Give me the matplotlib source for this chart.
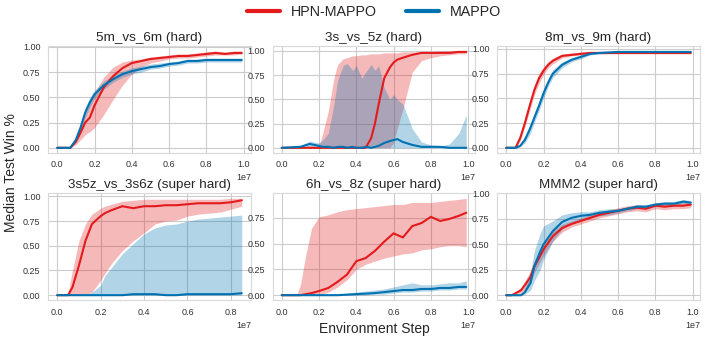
import matplotlib
matplotlib.use("Agg")
import matplotlib.pyplot as plt
import numpy as np
import seaborn as sns
from matplotlib.lines import Line2D

sns.set_style("whitegrid")
plt.rcParams["font.family"] = ["Liberation Sans", "DejaVu Sans"]

RED = "#e41a1c"
BLUE = "#0072b2"

# x values are in units of 1e7 environment steps
titles = ["5m_vs_6m (hard)", "3s_vs_5z (hard)", "8m_vs_9m (hard)",
          "3s5z_vs_3s6z (super hard)", "6h_vs_8z (super hard)", "MMM2 (super hard)"]

# 5m_vs_6m
x1 = [0, 0.05, 0.07, 0.1, 0.125, 0.15, 0.175, 0.2, 0.25, 0.3, 0.35, 0.4, 0.45, 0.5,
      0.55, 0.6, 0.65, 0.7, 0.75, 0.8, 0.85, 0.9, 0.95, 0.99]
hpn1 = [0, 0, 0, 0.06, 0.15, 0.25, 0.3, 0.42, 0.6, 0.71, 0.79, 0.84, 0.86, 0.88,
        0.89, 0.9, 0.91, 0.91, 0.92, 0.93, 0.94, 0.93, 0.94, 0.94]
hpn1_lo = [0, 0, 0, 0.03, 0.08, 0.13, 0.16, 0.2, 0.33, 0.48, 0.62, 0.73, 0.8, 0.84,
           0.86, 0.88, 0.89, 0.89, 0.9, 0.91, 0.92, 0.92, 0.92, 0.93]
hpn1_hi = [0, 0, 0, 0.1, 0.22, 0.35, 0.45, 0.55, 0.7, 0.8, 0.85, 0.87, 0.88, 0.9,
           0.91, 0.92, 0.93, 0.93, 0.94, 0.95, 0.96, 0.95, 0.96, 0.96]
mappo1 = [0, 0, 0, 0.08, 0.2, 0.35, 0.45, 0.53, 0.62, 0.68, 0.73, 0.76, 0.78, 0.8,
          0.81, 0.83, 0.84, 0.86, 0.86, 0.87, 0.87, 0.87, 0.87, 0.87]
mappo1_lo = [0, 0, 0, 0.06, 0.16, 0.3, 0.4, 0.49, 0.58, 0.65, 0.7, 0.73, 0.75, 0.78,
             0.79, 0.81, 0.82, 0.84, 0.84, 0.85, 0.85, 0.85, 0.85, 0.85]
mappo1_hi = [0, 0, 0, 0.1, 0.24, 0.4, 0.5, 0.57, 0.66, 0.72, 0.76, 0.79, 0.81, 0.83,
             0.84, 0.85, 0.86, 0.88, 0.88, 0.89, 0.89, 0.89, 0.89, 0.89]

# 3s_vs_5z
x2 = [0, 0.1, 0.15, 0.2, 0.22, 0.25, 0.28, 0.3, 0.33, 0.35, 0.38, 0.4, 0.43, 0.45,
      0.48, 0.5, 0.52, 0.55, 0.58, 0.6, 0.62, 0.65, 0.7, 0.75, 0.8, 0.85, 0.9, 0.95, 0.99]
hpn2 = [0, 0, 0, 0, 0, 0, 0, 0, 0, 0, 0, 0, 0, 0, 0.1, 0.25, 0.45, 0.72, 0.83, 0.88,
        0.91, 0.93, 0.96, 0.98, 0.98, 0.98, 0.98, 0.99, 0.99]
hpn2_lo = [0, 0, 0, 0, 0, 0, 0, 0, 0, 0, 0, 0, 0, 0, 0, 0, 0, 0, 0, 0.05, 0.2, 0.4,
           0.78, 0.9, 0.93, 0.95, 0.96, 0.97, 0.97]
hpn2_hi = [0, 0, 0, 0.02, 0.15, 0.38, 0.72, 0.86, 0.92, 0.93, 0.95, 0.95, 0.96, 0.96,
           0.97, 0.97, 0.97, 0.98, 0.98, 0.98, 0.98, 0.99, 0.99, 0.99, 0.99, 1.0, 1.0, 1.0, 1.0]
mappo2 = [0, 0.01, 0.04, 0.02, 0.01, 0.01, 0, 0.01, 0.01, 0, 0.01, 0, 0, 0.01, 0, 0.01,
          0.02, 0.05, 0.07, 0.08, 0.09, 0.06, 0.03, 0.01, 0.01, 0.01, 0, 0, 0]
mappo2_lo = [0] * 29
mappo2_hi = [0, 0.02, 0.07, 0.05, 0.08, 0.15, 0.45, 0.7, 0.85, 0.87, 0.8, 0.85, 0.72,
             0.78, 0.86, 0.8, 0.85, 0.62, 0.5, 0.55, 0.5, 0.45, 0.2, 0.06, 0.03, 0.02,
             0.04, 0.15, 0.34]

# 8m_vs_9m
x3 = [0, 0.05, 0.075, 0.1, 0.125, 0.15, 0.175, 0.2, 0.225, 0.25, 0.3, 0.35, 0.4, 0.45,
      0.5, 0.6, 0.7, 0.8, 0.9, 0.99]
hpn3 = [0, 0, 0.1, 0.25, 0.42, 0.58, 0.7, 0.78, 0.84, 0.88, 0.93, 0.94, 0.95, 0.96,
        0.96, 0.96, 0.96, 0.96, 0.96, 0.96]
hpn3_lo = [0, 0, 0.07, 0.21, 0.37, 0.53, 0.65, 0.74, 0.81, 0.85, 0.91, 0.93, 0.94, 0.95,
           0.95, 0.95, 0.95, 0.95, 0.95, 0.95]
hpn3_hi = [0, 0, 0.13, 0.29, 0.47, 0.63, 0.75, 0.82, 0.87, 0.91, 0.95, 0.96, 0.97, 0.97,
           0.97, 0.97, 0.97, 0.97, 0.97, 0.97]
mappo3 = [0, 0, 0.02, 0.08, 0.18, 0.3, 0.42, 0.55, 0.66, 0.75, 0.84, 0.89, 0.92, 0.95,
          0.96, 0.97, 0.97, 0.97, 0.97, 0.97]
mappo3_lo = [0, 0, 0.01, 0.05, 0.13, 0.25, 0.37, 0.5, 0.62, 0.71, 0.81, 0.87, 0.9, 0.94,
             0.95, 0.96, 0.96, 0.96, 0.96, 0.96]
mappo3_hi = [0, 0, 0.04, 0.12, 0.23, 0.35, 0.47, 0.6, 0.7, 0.79, 0.87, 0.91, 0.94, 0.96,
             0.97, 0.98, 0.98, 0.98, 0.98, 0.98]

# 3s5z_vs_3s6z
x4 = [0, 0.05, 0.07, 0.1, 0.13, 0.16, 0.2, 0.22, 0.25, 0.3, 0.35, 0.4, 0.45, 0.5, 0.55,
      0.6, 0.65, 0.7, 0.75, 0.8, 0.85]
hpn4 = [0, 0, 0.08, 0.3, 0.55, 0.72, 0.8, 0.83, 0.86, 0.9, 0.88, 0.9, 0.9, 0.91, 0.91,
        0.92, 0.93, 0.93, 0.93, 0.94, 0.96]
hpn4_lo = [0, 0, 0, 0, 0.01, 0.03, 0.15, 0.22, 0.32, 0.45, 0.55, 0.63, 0.72, 0.75, 0.76,
           0.8, 0.82, 0.83, 0.84, 0.87, 0.9]
hpn4_hi = [0, 0.02, 0.25, 0.55, 0.72, 0.82, 0.88, 0.9, 0.92, 0.95, 0.96, 0.97, 0.97, 0.97,
           0.97, 0.97, 0.97, 0.97, 0.97, 0.98, 0.98]
mappo4 = [0, 0, 0, 0, 0, 0, 0, 0, 0, 0, 0.01, 0.01, 0.01, 0, 0, 0.01, 0.01, 0.01, 0.01,
          0.01, 0.02]
mappo4_lo = [0] * 21
mappo4_hi = [0, 0, 0, 0, 0.01, 0.03, 0.1, 0.2, 0.28, 0.42, 0.52, 0.62, 0.68, 0.71, 0.72,
             0.75, 0.77, 0.78, 0.79, 0.8, 0.81]

# 6h_vs_8z
x5 = [0, 0.08, 0.1, 0.13, 0.16, 0.2, 0.25, 0.3, 0.35, 0.4, 0.45, 0.5, 0.55, 0.6, 0.65,
      0.7, 0.75, 0.8, 0.85, 0.9, 0.95, 0.99]
hpn5 = [0, 0, 0, 0.01, 0.02, 0.04, 0.07, 0.13, 0.2, 0.33, 0.36, 0.43, 0.52, 0.6, 0.56,
        0.67, 0.7, 0.76, 0.72, 0.74, 0.77, 0.8]
hpn5_lo = [0, 0, 0, 0, 0, 0, 0.03, 0.08, 0.15, 0.25, 0.3, 0.33, 0.36, 0.38, 0.4, 0.41,
           0.44, 0.45, 0.47, 0.48, 0.48, 0.47]
hpn5_hi = [0, 0, 0.1, 0.4, 0.65, 0.76, 0.78, 0.81, 0.83, 0.84, 0.85, 0.86, 0.87, 0.88,
           0.88, 0.9, 0.9, 0.9, 0.91, 0.92, 0.93, 0.94]
mappo5 = [0, 0, 0, 0, 0, 0, 0, 0, 0.005, 0.01, 0.015, 0.02, 0.03, 0.04, 0.05, 0.05, 0.06,
          0.06, 0.07, 0.07, 0.08, 0.08]
mappo5_lo = [0, 0, 0, 0, 0, 0, 0, 0, 0, 0, 0, 0.01, 0.01, 0.02, 0.03, 0.03, 0.04, 0.04,
             0.05, 0.05, 0.06, 0.06]
mappo5_hi = [0, 0, 0, 0, 0, 0, 0.01, 0.01, 0.02, 0.03, 0.04, 0.05, 0.06, 0.08, 0.1, 0.12,
             0.1, 0.1, 0.11, 0.12, 0.12, 0.14]

# MMM2
x6 = [0, 0.03, 0.05, 0.08, 0.1, 0.13, 0.15, 0.18, 0.2, 0.25, 0.3, 0.35, 0.4, 0.45, 0.5,
      0.55, 0.6, 0.65, 0.7, 0.75, 0.8, 0.85, 0.9, 0.95, 0.99]
hpn6 = [0, 0, 0.02, 0.05, 0.1, 0.18, 0.28, 0.38, 0.45, 0.58, 0.66, 0.7, 0.73, 0.76, 0.79,
        0.81, 0.83, 0.85, 0.86, 0.85, 0.88, 0.87, 0.88, 0.88, 0.89]
hpn6_lo = [0, 0, 0.01, 0.02, 0.06, 0.12, 0.22, 0.32, 0.39, 0.53, 0.62, 0.67, 0.7, 0.73,
           0.76, 0.78, 0.8, 0.82, 0.83, 0.82, 0.85, 0.84, 0.85, 0.85, 0.86]
hpn6_hi = [0, 0, 0.03, 0.08, 0.14, 0.24, 0.34, 0.44, 0.51, 0.63, 0.7, 0.73, 0.76, 0.79,
           0.82, 0.84, 0.86, 0.88, 0.89, 0.88, 0.91, 0.9, 0.91, 0.91, 0.92]
mappo6 = [0, 0, 0, 0, 0.03, 0.12, 0.28, 0.42, 0.5, 0.63, 0.72, 0.76, 0.78, 0.79, 0.81,
          0.82, 0.83, 0.85, 0.87, 0.87, 0.89, 0.9, 0.9, 0.92, 0.91]
mappo6_lo = [0, 0, 0, 0, 0.01, 0.05, 0.14, 0.24, 0.35, 0.53, 0.65, 0.71, 0.74, 0.76,
             0.78, 0.79, 0.81, 0.83, 0.85, 0.85, 0.87, 0.88, 0.88, 0.9, 0.89]
mappo6_hi = [0, 0, 0, 0.01, 0.07, 0.22, 0.43, 0.6, 0.68, 0.73, 0.79, 0.81, 0.82, 0.82,
             0.84, 0.85, 0.85, 0.87, 0.89, 0.89, 0.91, 0.92, 0.92, 0.94, 0.93]

panels = [
    (x1, hpn1, hpn1_lo, hpn1_hi, mappo1, mappo1_lo, mappo1_hi),
    (x2, hpn2, hpn2_lo, hpn2_hi, mappo2, mappo2_lo, mappo2_hi),
    (x3, hpn3, hpn3_lo, hpn3_hi, mappo3, mappo3_lo, mappo3_hi),
    (x4, hpn4, hpn4_lo, hpn4_hi, mappo4, mappo4_lo, mappo4_hi),
    (x5, hpn5, hpn5_lo, hpn5_hi, mappo5, mappo5_lo, mappo5_hi),
    (x6, hpn6, hpn6_lo, hpn6_hi, mappo6, mappo6_lo, mappo6_hi),
]

fig, axes = plt.subplots(2, 3, figsize=(7.06, 3.39), dpi=100)
fig.subplots_adjust(left=0.068, right=0.9915, top=0.864, bottom=0.115,
                    wspace=0.106, hspace=0.383)

for ax, title, data in zip(axes.flat, titles, panels):
    x, h, hlo, hhi, m, mlo, mhi = data
    steps = np.array(x) * 1e7
    ax.fill_between(steps, hlo, hhi, color=RED, alpha=0.3, linewidth=0)
    ax.fill_between(steps, mlo, mhi, color=BLUE, alpha=0.3, linewidth=0)
    ax.plot(steps, h, color=RED, linewidth=1.5)
    ax.plot(steps, m, color=BLUE, linewidth=1.5)
    ax.set_title(title, fontsize=9.7, pad=4)
    ax.set_xticks([t * 1e7 for t in (0, 0.2, 0.4, 0.6, 0.8, 1.0) if t <= max(x) + 0.02])
    ax.ticklabel_format(axis="x", style="sci", scilimits=(7, 7))
    ax.tick_params(labelsize=6.5, pad=2, labelcolor="0.2")
    ax.xaxis.get_offset_text().set_fontsize(6.5)
    ax.xaxis.get_offset_text().set_color("0.2")
    if title.startswith("6h"):
        ax.set_yticks([0, 0.25, 0.5, 0.75])
    else:
        ax.set_yticks([0, 0.25, 0.5, 0.75, 1.0])
    for s in ax.spines.values():
        s.set_color("0.85")

handles = [Line2D([], [], color=RED, linewidth=3), Line2D([], [], color=BLUE, linewidth=3)]
fig.legend(handles, ["HPN-MAPPO", "MAPPO"], loc="center", bbox_to_anchor=(0.53, 0.965),
           ncol=2, frameon=False, fontsize=10.3, handlelength=2.3, columnspacing=2.0)
fig.text(0.53, 0.03, "Environment Step", ha="center", va="center", fontsize=10)
fig.text(0.016, 0.49, "Median Test Win %", ha="center", va="center", rotation=90,
         fontsize=10)

fig.savefig("out.png", dpi=100)
